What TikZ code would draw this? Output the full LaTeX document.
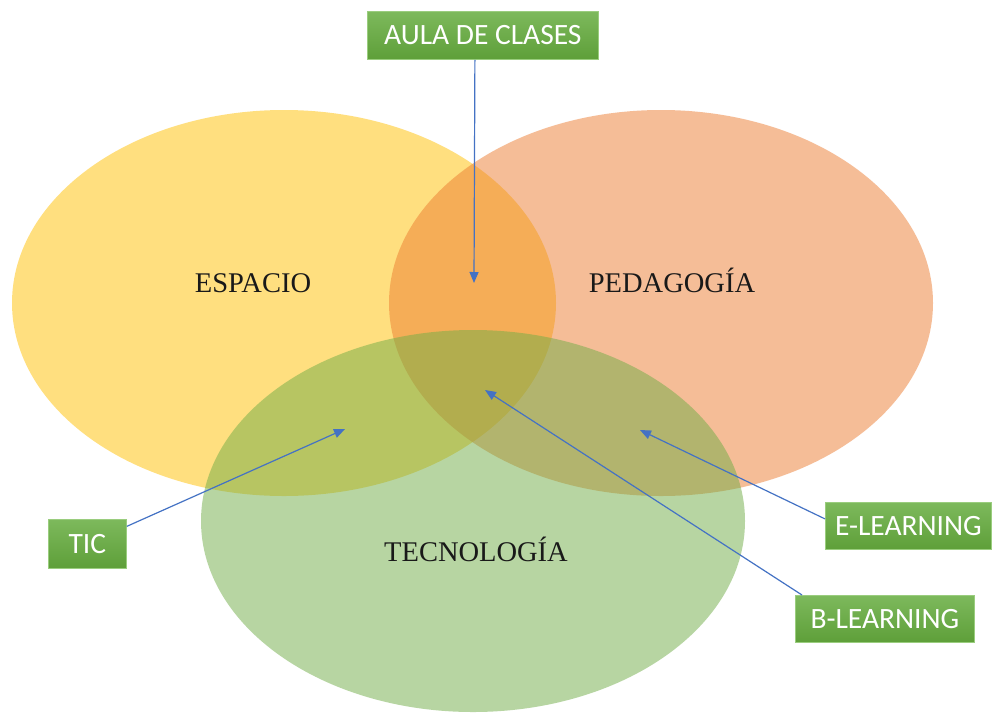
\documentclass[tikz,border=0pt]{standalone}
\usepackage{fontspec}
\setmainfont{Liberation Serif}
\newfontfamily\boxfont{Carlito}
\usetikzlibrary{arrows.meta,calc}
\definecolor{ey}{HTML}{FFC000}
\definecolor{eo}{HTML}{ED7D31}
\definecolor{eg}{HTML}{70AD47}
\definecolor{arr}{HTML}{4472C4}
\definecolor{gtop}{HTML}{7DB95C}
\definecolor{gbot}{HTML}{5E9F39}
\definecolor{gedge}{HTML}{9ACD7E}
\begin{document}
\begin{tikzpicture}[x=1pt,y=-1pt,
  venn/.style={fill opacity=0.5, draw=none},
  tag/.style={draw=gedge, line width=0.8pt, top color=gtop, bottom color=gbot,
    text=white, font=\boxfont\fontsize{29.5}{31}\selectfont, inner sep=0pt, anchor=north west},
  lbl/.style={font=\fontsize{28.5}{30}\selectfont, text=black!90},
  conn/.style={draw=arr, line width=1.2pt, -{Triangle[length=11pt,width=9pt]}}]
\useasboundingbox (0,0) rectangle (993,713);
\fill[white] (0,0) rectangle (993,713);
% ellipses
\fill[venn, ey] (284,303) ellipse [x radius=272, y radius=193];
\fill[venn, eo] (661,303) ellipse [x radius=272, y radius=193];
\fill[venn, eg] (473,521) ellipse [x radius=272, y radius=191];
% labels
\node[lbl] (esp) at (253,283) {ESPACIO};
\node[lbl] (ped) at (672,280) {PEDAGOGÍA};
\node[lbl] (tec) at (476,549) {TECNOLOGÍA};
% tags
\node[tag, minimum width=231, minimum height=48] (aula) at (367,11) {AULA DE CLASES};
\node[tag, minimum width=78, minimum height=49] (tic) at (48,519) {TIC};
\node[tag, minimum width=166, minimum height=47] (elearn) at (825,502) {E-LEARNING};
\node[tag, minimum width=179, minimum height=47] (blearn) at (795,595) {B-LEARNING};
% tips
\coordinate (t1) at (474,283);
\coordinate (t2) at (345,429);
\coordinate (t3) at (640,430);
\coordinate (t4) at (485,390);
% arrows
\draw[conn] ([xshift=-8pt]aula.south) -- (t1);
\draw[conn] (tic) -- (t2);
\draw[conn] ([yshift=7pt]elearn.west) -- (t3);
\draw[conn] ([xshift=7pt]blearn.north west) -- (t4);
\end{tikzpicture}
\end{document}
